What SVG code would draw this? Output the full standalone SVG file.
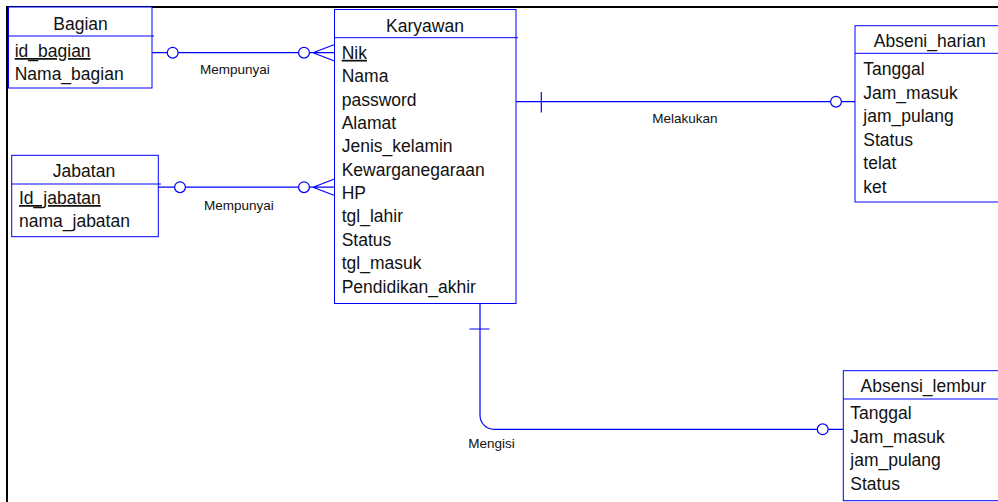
<svg xmlns="http://www.w3.org/2000/svg" width="998" height="502" viewBox="0 0 998 502">
<style>
.box{fill:#fff;stroke:#0000ff;stroke-width:1}
.sep{stroke:#0000ff;stroke-width:1;fill:none}
.t{font-family:"Liberation Sans",Arial,sans-serif;font-size:17.5px;fill:#111}
.tt{font-family:"Liberation Sans",Arial,sans-serif;font-size:17.5px;fill:#111;text-anchor:middle}
.pk{text-decoration:underline}
.lbl{font-family:"Liberation Sans",Arial,sans-serif;font-size:13.5px;fill:#111}
.ln{stroke:#0000ff;stroke-width:1.2;fill:none}
.c{stroke:#0000ff;stroke-width:1.2;fill:#fff}
</style>
<rect x="0" y="0" width="998" height="502" fill="#fff"/>
<path d="M7,502 V7 H998" fill="none" stroke="#000" stroke-width="2"/>

<g id="connectors">
  <!-- Bagian - Karyawan -->
  <path class="ln" d="M152,52.7 H334.5 M313,52.7 L334.5,44.5 M313,52.7 L334.5,61"/>
  <circle class="c" cx="172.7" cy="52.7" r="5.4"/>
  <circle class="c" cx="304" cy="52.7" r="5.4"/>
  <!-- Jabatan - Karyawan -->
  <path class="ln" d="M158.3,187.2 H334.5 M313,187.2 L334.5,179 M313,187.2 L334.5,195.5"/>
  <circle class="c" cx="180" cy="187.2" r="5.4"/>
  <circle class="c" cx="304" cy="187.2" r="5.4"/>
  <!-- Karyawan - Abseni_harian -->
  <path class="ln" d="M516,101.7 H855 M541.3,92 V112.5"/>
  <circle class="c" cx="836" cy="101.7" r="5.4"/>
  <!-- Karyawan - Absensi_lembur -->
  <path class="ln" d="M480,303.5 V415 A14,14 0 0 0 494,429.3 H843.3 M469.5,329 H489.5"/>
  <circle class="c" cx="822.7" cy="429.3" r="5.4"/>
  <text class="lbl" x="200" y="74">Mempunyai</text>
  <text class="lbl" x="204" y="210">Mempunyai</text>
  <text class="lbl" x="652.3" y="123">Melakukan</text>
  <text class="lbl" x="468.3" y="447.5">Mengisi</text>
</g>

<g id="bagian">
  <rect class="box" x="8.5" y="7" width="143.5" height="81"/>
  <path class="sep" d="M8.5,36 H154"/>
  <text class="tt" x="80.5" y="29.5">Bagian</text>
  <text class="t pk" x="14.7" y="57">id_bagian</text>
  <text class="t" x="14.7" y="80">Nama_bagian</text>
</g>

<g id="jabatan">
  <rect class="box" x="11.7" y="155.3" width="146.6" height="81.4"/>
  <path class="sep" d="M11.7,184 H161"/>
  <text class="tt" x="84" y="176.5">Jabatan</text>
  <text class="t pk" x="19" y="204">Id_jabatan</text>
  <text class="t" x="19" y="227.3">nama_jabatan</text>
</g>

<g id="karyawan">
  <rect class="box" x="334.5" y="9.5" width="181.5" height="294"/>
  <path class="sep" d="M334.5,37.7 H518"/>
  <text class="tt" x="425" y="31.5">Karyawan</text>
  <text class="t pk" x="341.7" y="58.8">Nik</text>
  <text class="t" x="341.7" y="82.2">Nama</text>
  <text class="t" x="341.7" y="105.5">password</text>
  <text class="t" x="341.7" y="128.9">Alamat</text>
  <text class="t" x="341.7" y="152.3">Jenis_kelamin</text>
  <text class="t" x="341.7" y="175.7">Kewarganegaraan</text>
  <text class="t" x="341.7" y="199">HP</text>
  <text class="t" x="341.7" y="222.4">tgl_lahir</text>
  <text class="t" x="341.7" y="245.8">Status</text>
  <text class="t" x="341.7" y="269.1">tgl_masuk</text>
  <text class="t" x="341.7" y="292.5">Pendidikan_akhir</text>
</g>

<g id="abseni_harian">
  <rect class="box" x="855" y="25.7" width="149" height="176.3"/>
  <path class="sep" d="M855,53.3 H1004"/>
  <text class="tt" x="929.7" y="46.7">Abseni_harian</text>
  <text class="t" x="863.3" y="75">Tanggal</text>
  <text class="t" x="863.3" y="98.5">Jam_masuk</text>
  <text class="t" x="863.3" y="122">jam_pulang</text>
  <text class="t" x="863.3" y="145.5">Status</text>
  <text class="t" x="863.3" y="169">telat</text>
  <text class="t" x="863.3" y="192.5">ket</text>
</g>

<g id="absensi_lembur">
  <rect class="box" x="843.3" y="370.7" width="160" height="130"/>
  <path class="sep" d="M843.3,399 H1004"/>
  <text class="tt" x="923.3" y="391.7">Absensi_lembur</text>
  <text class="t" x="850.3" y="419">Tanggal</text>
  <text class="t" x="850.3" y="442.5">Jam_masuk</text>
  <text class="t" x="850.3" y="466">jam_pulang</text>
  <text class="t" x="850.3" y="489.5">Status</text>
</g>
</svg>
